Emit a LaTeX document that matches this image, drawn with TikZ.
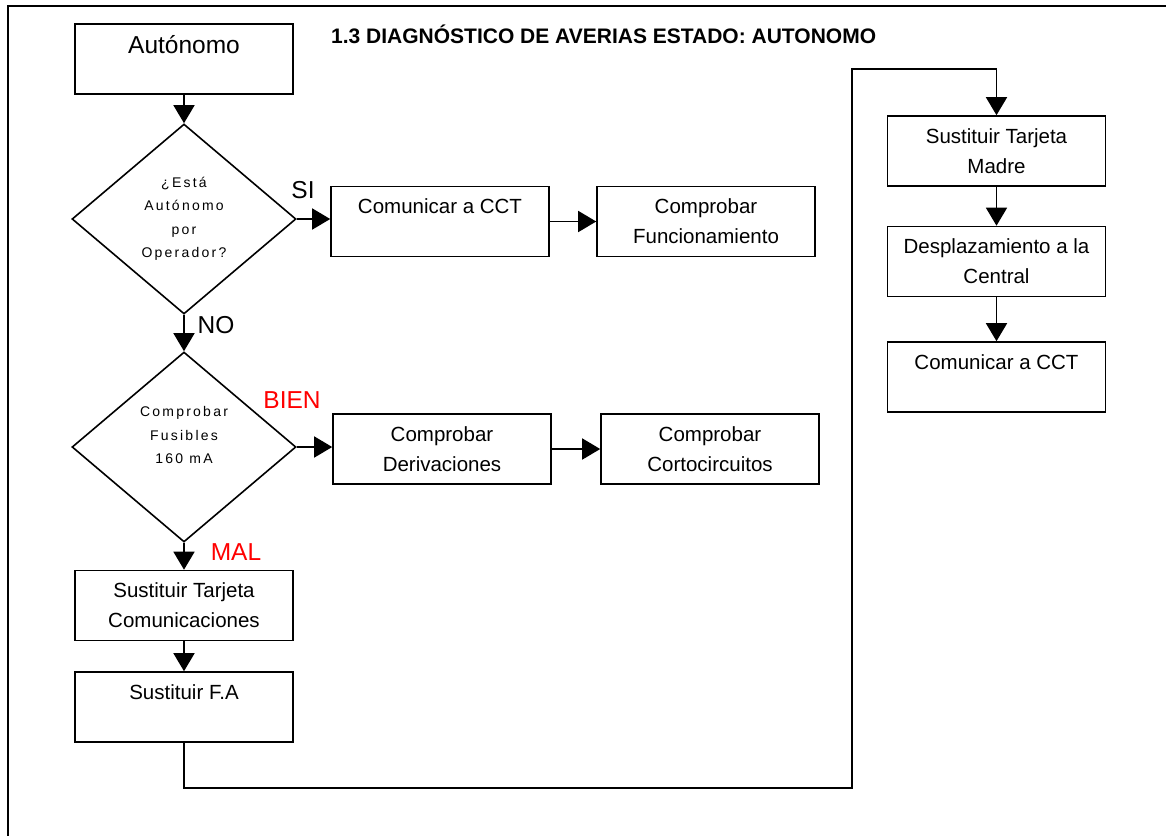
\documentclass[tikz,border=0pt]{standalone}
\usepackage{fontspec}
\setmainfont{Liberation Sans}
\usetikzlibrary{shapes.geometric,arrows.meta}
\begin{document}
\begin{tikzpicture}[x=1pt,y=-1pt,
  box/.style={draw,line width=1.6pt,minimum width=218pt,minimum height=70pt,inner sep=0pt,align=center,font=\fontsize{20.5}{30}\selectfont},
  decision/.style={draw,diamond,line width=1.6pt,minimum width=224pt,minimum height=190pt,inner sep=0pt,align=center,font=\fontsize{14}{23.5}\selectfont\addfontfeature{LetterSpace=16}},
  flow/.style={line width=1.6pt,-{Triangle[length=18pt,width=21pt]}},
  lbl/.style={inner sep=0pt,font=\fontsize{24.5}{28}\selectfont}]
\useasboundingbox (0,0) rectangle (1166,836);
\draw[line width=2pt] (1166,6) -- (8,6) -- (8,836);
\node[inner sep=0pt,anchor=west,font=\fontsize{21}{24}\selectfont\bfseries] (title) at (331,34) {1.3 DIAGNÓSTICO DE AVERIAS ESTADO: AUTONOMO};
\node[box,font=\fontsize{24.5}{30}\selectfont] (auto) at (184,59) {Autónomo\\\mbox{}};
\node[decision] (d1) at (184,219) {¿Está\\Autónomo\\por\\Operador?};
\node[box] (comA) at (440,221.5) {Comunicar a CCT\\\mbox{}};
\node[box] (funcA) at (706,221.5) {Comprobar\\Funcionamiento};
\node[decision] (d2) at (184,447) {Comprobar\\Fusibles\\160 mA\\\mbox{}};
\node[box] (derA) at (442,449) {Comprobar\\Derivaciones};
\node[box] (cortA) at (710,449) {Comprobar\\Cortocircuitos};
\node[box] (sustCom) at (184,605.5) {Sustituir Tarjeta\\Comunicaciones};
\node[box] (sustFA) at (184,707) {Sustituir F.A\\\mbox{}};
\node[box] (madre) at (996.5,151) {Sustituir Tarjeta\\Madre};
\node[box] (despl) at (996.5,261.5) {Desplazamiento a la\\Central};
\node[box] (comB) at (996.5,377) {Comunicar a CCT\\\mbox{}};
\node[lbl] (si) at (303,190) {SI};
\node[lbl] (no) at (216,325) {NO};
\node[lbl,text=red] (bien) at (292,400) {BIEN};
\node[lbl,text=red] (mal) at (236,552) {MAL};
\coordinate (loopA) at (852,788);
\coordinate (loopB) at (852,69);
\draw[flow] (auto.south) -- (d1.north);
\draw[flow] (d1.east) -- (d1.east -| comA.west);
\draw[flow] (comA.east) -- (funcA.west);
\draw[flow] (d1.south) -- (d2.north);
\draw[flow] (d2.east) -- (d2.east -| derA.west);
\draw[flow] (derA.east) -- (derA.east -| cortA.west);
\draw[flow] (d2.south) -- (sustCom.north);
\draw[flow] (sustCom.south) -- (sustFA.north);
\draw[flow] (sustFA.south) |- (loopA) -- (loopB) -| (madre.north);
\draw[flow] (madre.south) -- (despl.north);
\draw[flow] (despl.south) -- (comB.north);
\end{tikzpicture}
\end{document}
